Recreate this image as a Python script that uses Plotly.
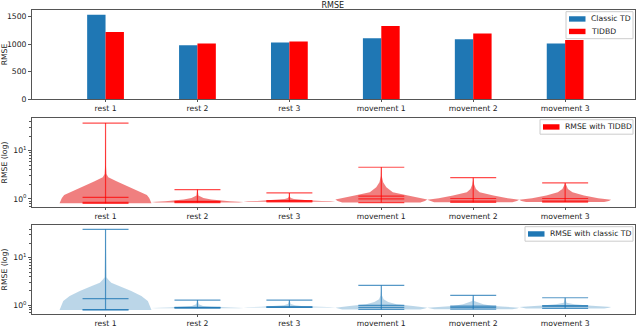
import plotly.graph_objects as go

categories = ["rest 1", "rest 2", "rest 3", "movement 1", "movement 2", "movement 3"]

# mean RMSE per run
rmse_classic = [1536, 980, 1028, 1108, 1090, 1010]
rmse_tidbd = [1222, 1010, 1046, 1331, 1192, 1077]

# per-step RMSE distributions (log plots): extrema, mean, median
tidbd_min = [0.81, 0.84, 0.87, 0.84, 0.85, 0.86]
tidbd_max = [37.4, 1.56, 1.33, 4.53, 2.76, 2.14]
tidbd_mean = [1.08, 0.89, 0.92, 1.14, 1.02, 1.02]
tidbd_median = [0.85, 0.87, 0.90, 1.00, 0.90, 0.90]

classic_min = [0.80, 0.87, 0.90, 0.82, 0.83, 0.86]
classic_max = [39.5, 1.29, 1.28, 2.63, 1.62, 1.44]
classic_mean = [1.38, 0.90, 0.93, 1.00, 0.96, 0.99]
classic_median = [0.81, 0.89, 0.92, 0.90, 0.90, 0.95]

# density profiles (value, relative density)
tidbd_vals = [
    [0.81, 0.90, 1.05, 1.21, 1.50, 1.86, 2.30, 2.81, 3.30, 5.0, 37.4],
    [0.84, 0.86, 0.89, 0.93, 0.97, 1.05, 1.17, 1.56],
    [0.87, 0.89, 0.91, 0.94, 0.97, 1.00, 1.05, 1.12, 1.33],
    [0.84, 0.90, 0.97, 1.05, 1.17, 1.38, 1.75, 2.22, 3.0, 4.53],
    [0.85, 0.90, 0.955, 1.03, 1.17, 1.38, 1.61, 2.0, 2.76],
    [0.86, 0.90, 0.955, 1.03, 1.17, 1.38, 1.61, 2.14],
]
tidbd_dens = [
    [1.0, 0.98, 0.95, 0.90, 0.67, 0.46, 0.25, 0.06, 0.02, 0.008, 0.004],
    [0.9, 1.0, 0.7, 0.45, 0.30, 0.13, 0.02, 0.005],
    [0.9, 1.0, 0.7, 0.40, 0.22, 0.10, 0.03, 0.01, 0.005],
    [0.85, 0.95, 1.0, 0.80, 0.58, 0.25, 0.11, 0.04, 0.01, 0.005],
    [0.85, 0.95, 1.0, 0.75, 0.44, 0.14, 0.06, 0.02, 0.005],
    [0.85, 0.95, 1.0, 0.72, 0.41, 0.16, 0.06, 0.005],
]
classic_vals = [
    [0.80, 1.23, 1.57, 2.0, 2.54, 2.98, 3.52, 3.9, 39.5],
    [0.87, 0.88, 0.90, 0.93, 0.97, 1.05, 1.29],
    [0.90, 0.91, 0.93, 0.96, 1.00, 1.06, 1.28],
    [0.82, 0.86, 0.89, 0.967, 1.05, 1.17, 1.34, 1.6, 2.63],
    [0.83, 0.86, 0.89, 0.97, 1.05, 1.23, 1.62],
    [0.86, 0.89, 0.92, 0.99, 1.05, 1.13, 1.44],
]
classic_dens = [
    [1.0, 0.92, 0.78, 0.56, 0.30, 0.124, 0.052, 0.02, 0.004],
    [0.9, 1.0, 0.6, 0.30, 0.12, 0.03, 0.005],
    [0.9, 1.0, 0.6, 0.30, 0.12, 0.03, 0.005],
    [0.85, 0.95, 1.0, 0.69, 0.33, 0.15, 0.05, 0.015, 0.004],
    [0.85, 0.95, 1.0, 0.44, 0.22, 0.02, 0.004],
    [0.85, 0.95, 1.0, 0.50, 0.20, 0.03, 0.004],
]

BLUE = '#1f77b4'
RED = '#ff0000'
FONT = dict(family='DejaVu Sans', size=7.7, color='#222222')
AXCOL = '#555555'
W, H = 640, 328
ML, MR, MT, MB = 32, 5, 10, 14
PW = W - ML - MR        # plot width in px
PH = 89                 # height of one panel in px


def dom(top_px):
    # panel domain from the pixel row of its top edge
    span = H - MT - MB
    return [(H - MB - top_px - PH) / span, (H - MB - top_px) / span]


pos = list(range(len(categories)))

fig = go.Figure()

fig.add_trace(go.Bar(x=pos, y=rmse_classic, marker=dict(color=BLUE, line_width=0),
                     name='Classic TD', showlegend=False, xaxis='x', yaxis='y'))
fig.add_trace(go.Bar(x=pos, y=rmse_tidbd, marker=dict(color=RED, line_width=0),
                     name='TIDBD', showlegend=False, xaxis='x', yaxis='y'))


def add_violins(vals_list, dens_list, mins, maxs, means, medians, fill, line, xa, ya):
    for i, (vals, dens) in enumerate(zip(vals_list, dens_list)):
        peak = max(dens)
        half = [0.5 * d / peak for d in dens]
        xs = [i - h for h in half] + [i + h for h in reversed(half)]
        ys = list(vals) + list(reversed(vals))
        fig.add_trace(go.Scatter(x=xs, y=ys, fill='toself', fillcolor=fill, mode='lines',
                                 line=dict(width=0, color=fill), hoverinfo='skip',
                                 showlegend=False, xaxis=xa, yaxis=ya))
    lx, ly = [], []
    for i in range(len(mins)):
        lx += [i, i, None]
        ly += [mins[i], maxs[i], None]
        for v in (mins[i], maxs[i], means[i], medians[i]):
            lx += [i - 0.25, i + 0.25, None]
            ly += [v, v, None]
    fig.add_trace(go.Scatter(x=lx, y=ly, mode='lines', line=dict(color=line, width=1.2),
                             showlegend=False, hoverinfo='skip', xaxis=xa, yaxis=ya))


add_violins(tidbd_vals, tidbd_dens, tidbd_min, tidbd_max, tidbd_mean, tidbd_median,
            'rgba(225,0,0,0.5)', 'rgba(255,0,0,0.7)', 'x2', 'y2')
add_violins(classic_vals, classic_dens, classic_min, classic_max, classic_mean, classic_median,
            'rgba(31,119,180,0.3)', 'rgba(31,119,180,0.75)', 'x3', 'y3')


# matplotlib-style legend box in the upper right corner of a panel
def add_legend(n, entries, box_w):
    xref, yref = 'x%s domain' % n, 'y%s domain' % n
    fx = lambda px: px / PW
    fy = lambda px: px / PH
    right, top = 1 - fx(2), 1 - fy(1.7)
    left = right - fx(box_w)
    row = 12.5
    fig.add_shape(type='rect', xref=xref, yref=yref, x0=left, x1=right,
                  y0=top - fy(row * len(entries) + 2), y1=top,
                  line=dict(color='#cccccc', width=1), fillcolor='rgba(255,255,255,0.8)')
    for k, (label, color) in enumerate(entries):
        yc = top - fy(1 + row / 2 + row * k)
        fig.add_shape(type='rect', xref=xref, yref=yref, x0=left + fx(3), x1=left + fx(19.5),
                      y0=yc - fy(2.7), y1=yc + fy(2.7), line=dict(width=0), fillcolor=color)
        fig.add_annotation(xref=xref, yref=yref, x=left + fx(24), y=yc, text=label,
                           showarrow=False, xanchor='left', yanchor='middle', font=FONT,
                           borderpad=0)


add_legend('', [('Classic TD', BLUE), ('TIDBD', RED)], 67)
add_legend('2', [('RMSE with TIDBD', RED)], 93)
add_legend('3', [('RMSE with classic TD', BLUE)], 108)

xcommon = dict(range=[-0.8, 5.76], tickvals=pos, ticktext=categories, ticks='outside', ticklen=2,
               tickcolor=AXCOL, showline=True, linecolor=AXCOL, linewidth=1, mirror=True,
               showgrid=False, zeroline=False, tickfont=FONT, automargin=False)
ycommon = dict(ticks='outside', ticklen=3, tickcolor=AXCOL, showline=True, linecolor=AXCOL,
               linewidth=1, mirror=True, showgrid=False, zeroline=False, tickfont=FONT,
               automargin=False)
minor_vals = [m * 10 ** e for e in (-1, 0, 1) for m in range(2, 10)]
logminor = dict(ticks='outside', ticklen=2, tickcolor=AXCOL, tickvals=minor_vals, showgrid=False)

fig.update_layout(
    width=W, height=H,
    margin=dict(l=ML, r=MR, t=MT, b=MB),
    paper_bgcolor='white', plot_bgcolor='white',
    font=FONT, showlegend=False,
    barmode='group', bargap=0.6, bargroupgap=0,
    title=dict(text='RMSE', x=0.52, xanchor='center', y=1 - 5 / H, yanchor='middle',
               font=dict(family='DejaVu Sans', size=8, color='#222222')),
    xaxis=dict(xcommon, anchor='y', domain=[0, 1]),
    xaxis2=dict(xcommon, anchor='y2', domain=[0, 1]),
    xaxis3=dict(xcommon, anchor='y3', domain=[0, 1]),
    yaxis=dict(ycommon, anchor='x', domain=dom(10), range=[0, 1622],
               tickvals=[0, 500, 1000, 1500],
               title=dict(text='RMSE', font=FONT)),
    yaxis2=dict(ycommon, anchor='x2', domain=dom(118), type='log', range=[-0.168, 1.678],
                tickvals=[1, 10], ticktext=['10<sup>0</sup>', '10<sup>1</sup>'], minor=logminor,
                title=dict(text='RMSE (log)', font=FONT)),
    yaxis3=dict(ycommon, anchor='x3', domain=dom(225), type='log', range=[-0.183, 1.687],
                tickvals=[1, 10], ticktext=['10<sup>0</sup>', '10<sup>1</sup>'], minor=logminor,
                title=dict(text='RMSE (log)', font=FONT)),
)

fig.write_html("out.html", config={'displayModeBar': False},
               post_script="document.body.style.margin='0';")
